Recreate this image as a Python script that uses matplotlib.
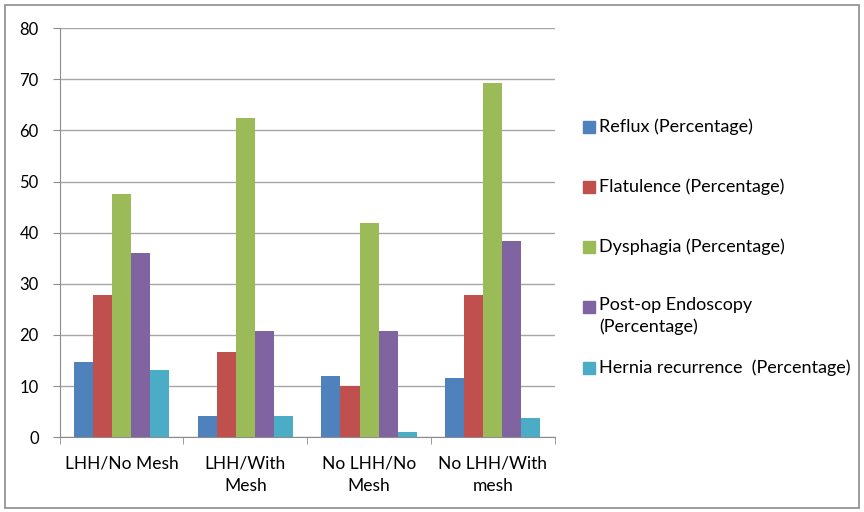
import matplotlib.pyplot as plt
import numpy as np
from matplotlib.patches import Rectangle

plt.rcParams['font.family'] = ['Lato', 'DejaVu Sans']

# data
CATEGORIES = ["LHH/No Mesh", "LHH/With\nMesh", "No LHH/No\nMesh", "No LHH/With\nmesh"]
SERIES = [
    "Reflux (Percentage)",
    "Flatulence (Percentage)",
    "Dysphagia (Percentage)",
    "Post-op Endoscopy\n(Percentage)",
    "Hernia recurrence  (Percentage)",
]
reflux = [14.7, 4.1, 12.0, 11.6]
flatulence = [27.8, 16.7, 10.0, 27.9]
dysphagia = [47.6, 62.5, 41.8, 69.3]
postop_endoscopy = [36.1, 20.8, 20.8, 38.3]
hernia_recurrence = [13.1, 4.1, 1.0, 3.8]

COLORS = ["#4F81BD", "#C0504D", "#9BBB59", "#8064A2", "#4BACC6"]

values = [reflux, flatulence, dysphagia, postop_endoscopy, hernia_recurrence]

W, H = 864, 512
fig = plt.figure(figsize=(W / 100, H / 100), dpi=100)
ax = fig.add_axes([0.069, 0.146, 0.573, 0.799])

# outer chart border
fig.patches.append(Rectangle((0.006, 0.008), 0.988, 0.982, transform=fig.transFigure,
                             fill=False, edgecolor="#8c8c8c", linewidth=1.2))

n = len(SERIES)
gap = 1.5
bar_w = 1.0 / (n + gap)
x = np.arange(len(CATEGORIES))
for i, (name, vals, col) in enumerate(zip(SERIES, values, COLORS)):
    offs = (i - (n - 1) / 2) * bar_w
    ax.bar(x + offs, vals, width=bar_w, color=col, label=name, zorder=3)

ax.set_xlim(-0.5, len(CATEGORIES) - 0.5)
ax.set_ylim(0, 80)
ax.set_yticks(range(0, 81, 10))
ax.yaxis.grid(True, color="#a6a6a6", linewidth=1.0, zorder=0)

ax.set_xticks(x)
ax.set_xticklabels(CATEGORIES, fontsize=12.5, va="top", linespacing=1.5)
ax.tick_params(axis="x", length=0, pad=13)
ax.set_xticks(np.arange(-0.5, len(CATEGORIES)), minor=True)
ax.tick_params(axis="x", which="minor", length=5, color="#8c8c8c")
ax.tick_params(axis="y", labelsize=12, length=5, color="#8c8c8c", pad=10)

for s in ["top", "right"]:
    ax.spines[s].set_visible(False)
for s in ["left", "bottom"]:
    ax.spines[s].set_color("#8c8c8c")

# hand-placed legend (Excel spaces the two-line entry unevenly)
legend_y = [127, 187, 247, 307, 368]   # pixel row of each entry's first line
sq = 12
for label, col, yp in zip(SERIES, COLORS, legend_y):
    fig.patches.append(Rectangle((583 / W, 1 - (yp + sq / 2) / H), sq / W, sq / H,
                                 transform=fig.transFigure, color=col))
    if "\n" in label:
        fig.text(599 / W, 1 - (yp - 10) / H, label, fontsize=13, va="top", ha="left",
                 linespacing=1.4)
    else:
        fig.text(599 / W, 1 - yp / H, label, fontsize=13, va="center", ha="left")

fig.savefig("out.png", dpi=100)
